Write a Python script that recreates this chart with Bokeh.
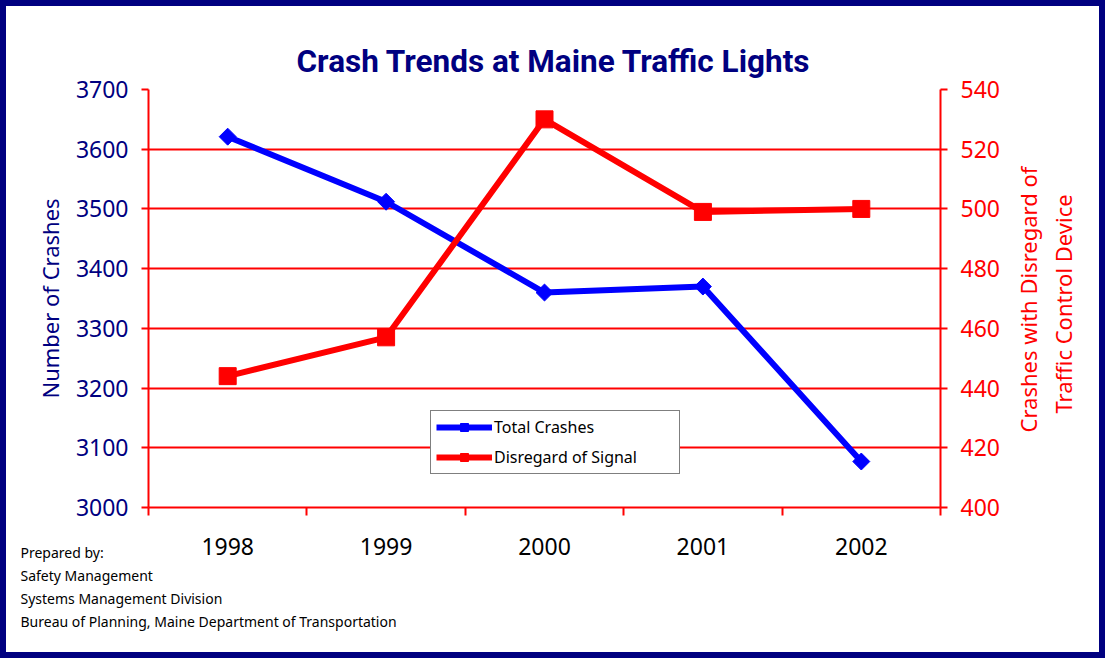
import math
from bokeh.plotting import figure
from bokeh.models import Range1d, LinearAxis, FixedTicker, Legend, LegendItem, Title
from bokeh.embed import file_html
from bokeh.resources import INLINE

# ---- data ----
years = ["1998", "1999", "2000", "2001", "2002"]
total_crashes = [3621, 3512, 3360, 3370, 3077]
disregard_signal = [444, 457, 530, 499, 500]
left_ticks = [3000, 3100, 3200, 3300, 3400, 3500, 3600, 3700]
right_ticks = [400, 420, 440, 460, 480, 500, 520, 540]
right_label_lines = ["Crashes with Disregard of", "Traffic Control Device"]
footnotes = [
    "Prepared by:",
    "Safety Management",
    "Systems Management Division",
    "Bureau of Planning, Maine Department of Transportation",
]

xs = [i + 0.5 for i in range(len(years))]
bounds = list(range(len(years) + 1))

NAVY = "#000080"
RED = "#FF0000"
BLUE = "#0000FF"
FONT = "Noto Sans"

W, H = 1105, 658
p = figure(
    width=W, height=H, output_backend="svg", toolbar_location=None,
    x_range=Range1d(0, len(years)), y_range=Range1d(left_ticks[0], left_ticks[-1]),
    min_border_left=142, min_border_right=171, min_border_top=83, min_border_bottom=157,
    title="Crash Trends at Maine Traffic Lights",
)
p.styles = {"border": "6px solid #000080"}
p.outline_line_color = None
p.background_fill_color = "white"
p.border_fill_color = "white"

p.title.text_font = "Roboto"
p.title.text_font_size = "31.5px"
p.title.text_font_style = "bold"
p.title.text_color = NAVY
p.title.align = "left"
p.title.offset = 148
p.title.standoff = 19

# grid
p.xgrid.grid_line_color = None
p.ygrid.grid_line_color = RED
p.ygrid.grid_line_width = 2
p.ygrid.ticker = FixedTicker(ticks=left_ticks)

# left axis
ly = p.yaxis[0]
ly.ticker = FixedTicker(ticks=left_ticks)
ly.axis_line_color = RED
ly.axis_line_width = 2
ly.major_tick_line_color = RED
ly.major_tick_line_width = 2
ly.major_tick_out = 7
ly.major_tick_in = 0
ly.minor_tick_line_color = None
ly.major_label_text_font = FONT
ly.major_label_text_font_size = "23px"
ly.major_label_text_color = NAVY
ly.major_label_standoff = 13
ly.axis_label = "Number of Crashes"
ly.axis_label_text_font = FONT
ly.axis_label_text_font_size = "22px"
ly.axis_label_text_font_style = "normal"
ly.axis_label_text_color = NAVY
ly.axis_label_standoff = 8

# right axis (ticks and numbers)
p.extra_y_ranges = {"right": Range1d(right_ticks[0], right_ticks[-1])}
ry = LinearAxis(y_range_name="right", ticker=FixedTicker(ticks=right_ticks))
ry.axis_line_color = RED
ry.axis_line_width = 2
ry.major_tick_line_color = RED
ry.major_tick_line_width = 2
ry.major_tick_out = 7
ry.major_tick_in = 0
ry.minor_tick_line_color = None
ry.major_label_text_font = FONT
ry.major_label_text_font_size = "23px"
ry.major_label_text_color = RED
ry.major_label_standoff = 13
p.add_layout(ry, "right")

# right axis title: one rotated tick label per line, reading bottom-to-top
label_anchor = [425.12, 431.48]   # where each line begins, in right-axis units
label_standoffs = [26, 2]
for txt, v, so in zip(right_label_lines, label_anchor, label_standoffs):
    ax = LinearAxis(y_range_name="right", ticker=FixedTicker(ticks=[v]))
    ax.major_label_overrides = {v: txt}
    ax.axis_line_color = None
    ax.major_tick_line_color = None
    ax.minor_tick_line_color = None
    ax.major_tick_out = 0
    ax.major_tick_in = 0
    ax.minor_tick_out = 0
    ax.minor_tick_in = 0
    ax.major_label_standoff = so
    ax.major_label_orientation = math.pi / 2
    ax.major_label_text_font = FONT
    ax.major_label_text_font_size = "22px"
    ax.major_label_text_color = RED
    p.add_layout(ax, "right")

# bottom axis
bx = p.xaxis[0]
bx.ticker = FixedTicker(ticks=xs, minor_ticks=bounds)
bx.major_label_overrides = {x: y for x, y in zip(xs, years)}
bx.axis_line_color = RED
bx.axis_line_width = 2
bx.major_tick_line_color = None
bx.major_tick_out = 0
bx.major_tick_in = 0
bx.minor_tick_line_color = RED
bx.minor_tick_line_width = 2
bx.minor_tick_out = 8
bx.minor_tick_in = 0
bx.major_label_text_font = FONT
bx.major_label_text_font_size = "23px"
bx.major_label_text_color = "black"
bx.major_label_standoff = 22

# series
l1 = p.line(xs, total_crashes, line_color=BLUE, line_width=6)
s1 = p.scatter(xs, total_crashes, marker="square", angle=math.pi / 4, size=12,
               fill_color=BLUE, line_color=BLUE)
l2 = p.line(xs, disregard_signal, y_range_name="right", line_color=RED, line_width=6)
s2 = p.scatter(xs, disregard_signal, y_range_name="right", marker="square", size=17,
               fill_color=RED, line_color=RED)

legend = Legend(
    items=[LegendItem(label="Total Crashes", renderers=[l1, s1]),
           LegendItem(label="Disregard of Signal", renderers=[l2, s2])],
    location=(282, 33),
)
legend.label_text_font = FONT
legend.label_text_font_size = "16px"
legend.label_text_color = "black"
legend.glyph_width = 56
legend.glyph_height = 20
legend.spacing = 8
legend.padding = 5
legend.margin = 0
legend.label_standoff = 2
legend.label_width = 180
legend.border_line_color = "black"
legend.border_line_width = 1
legend.background_fill_color = "white"
legend.background_fill_alpha = 1
p.add_layout(legend)

# footnote block below the x axis
note = Title(text="\n".join(footnotes), align="left", offset=-128, text_font=FONT,
             text_font_size="14px", text_font_style="normal", text_color="black",
             text_line_height=1.21)
try:
    note.standoff = -33
except Exception:
    note.standoff = 0
p.add_layout(note, "below")

open("out.html", "w").write(file_html(p, INLINE))
